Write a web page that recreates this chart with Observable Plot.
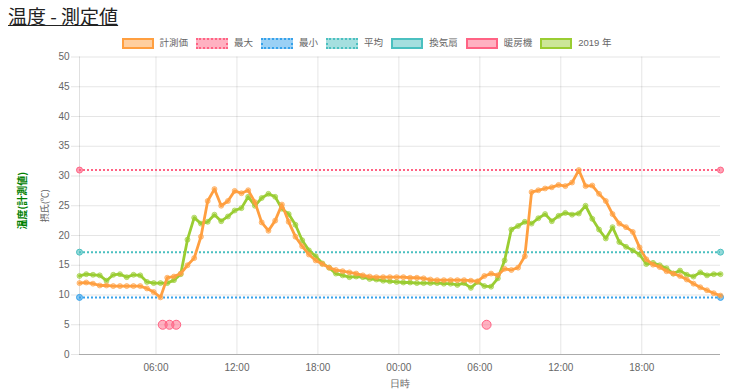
<!DOCTYPE html>
<html><head><meta charset="utf-8">
<script src="https://cdn.jsdelivr.net/npm/d3@7"></script>
<script src="https://cdn.jsdelivr.net/npm/@observablehq/plot@0.6"></script>
<style>
body{margin:0;background:#fff;font-family:"Liberation Sans",Arial,"Noto Sans CJK JP",sans-serif;width:733px;height:392px;overflow:hidden;position:relative;}
#title{position:absolute;left:8px;top:3px;font-size:19px;text-decoration:underline;color:#222;font-family:"Noto Sans CJK JP",sans-serif;line-height:26px;}
#legend{position:absolute;top:37px;left:0;width:733px;display:flex;justify-content:center;font-size:9.5px;color:#666;font-family:"Liberation Sans","Noto Sans CJK JP",sans-serif;}
.item{display:flex;align-items:center;margin:0 4px;line-height:12px;}
.box{width:28px;height:7px;margin-right:6px;border-width:2px;}
#chart{position:absolute;top:52px;left:0;}
</style></head>
<body>
<div id="title">温度 - 測定値</div>
<div id="legend"></div>
<div id="chart"></div>
<script>
// ---- data ----
const startTime = Date.UTC(2020, 0, 1, 0, 20);
const endTime = Date.UTC(2020, 0, 2, 23, 50);
const stepMinutes = 30;
const measured = [
  12.0, 12.1, 11.9, 11.6, 11.6, 11.5, 11.5, 11.5, 11.5, 11.5,
  11.1, 10.5, 9.6, 12.9, 13.1, 13.6, 15.0, 16.2, 19.8, 25.8,
  27.8, 25.0, 25.8, 27.5, 27.1, 27.6, 25.6, 22.2, 20.8, 22.5,
  25.2, 22.3, 19.8, 18.2, 16.8, 15.8, 15.2, 14.6, 14.2, 14.0,
  13.8, 13.6, 13.3, 13.1, 13.0, 13.0, 13.0, 13.0, 13.0, 12.9,
  12.9, 12.8, 12.6, 12.5, 12.5, 12.5, 12.5, 12.5, 12.4, 12.3,
  13.2, 13.6, 13.3, 14.4, 14.2, 14.6, 16.5, 27.3, 27.6, 27.9,
  28.1, 28.5, 28.3, 28.9, 31.0, 28.3, 28.4, 27.0, 25.8, 23.6,
  22.0, 21.4, 20.6, 18.0, 16.0, 15.1, 14.7, 14.0, 13.6, 13.2,
  12.6, 11.9, 11.3, 10.8, 10.3, 9.9
];
const y2019 = [
  13.2, 13.5, 13.4, 13.3, 12.4, 13.4, 13.5, 13.0, 13.4, 13.3,
  12.2, 12.0, 12.0, 12.0, 12.5, 13.5, 19.3, 23.0, 22.0, 22.3,
  23.5, 22.4, 23.2, 24.2, 24.6, 26.5, 25.0, 26.3, 27.0, 26.5,
  24.5, 23.6, 21.8, 19.2, 17.5, 16.5, 15.3, 14.6, 13.6, 13.3,
  13.0, 13.1, 13.0, 12.7, 12.6, 12.4, 12.3, 12.2, 12.1, 12.1,
  12.0, 12.0, 12.0, 12.0, 11.9, 11.9, 11.7, 12.0, 11.2, 12.2,
  11.5, 11.4, 12.8, 15.8, 21.0, 21.6, 22.3, 22.0, 22.9, 23.6,
  22.4, 23.3, 23.8, 23.5, 23.7, 25.0, 22.8, 21.0, 19.5, 21.4,
  18.9, 18.1, 17.5, 16.8, 15.2, 15.4, 15.0, 14.5, 13.6, 14.1,
  13.4, 13.1, 13.8, 13.3, 13.5, 13.5
];
const heaterTimes = ["2020-01-01T06:30Z", "2020-01-01T07:00Z", "2020-01-01T07:30Z", "2020-01-02T06:30Z"];
const heaterValues = [5, 5, 5, 5];
const refMax = 31.0, refMin = 9.6, refAvg = 17.2;
const yTicks = [0, 5, 10, 15, 20, 25, 30, 35, 40, 45, 50];
const xTickTimes = ["2020-01-01T06:00Z", "2020-01-01T12:00Z", "2020-01-01T18:00Z", "2020-01-02T00:00Z", "2020-01-02T06:00Z", "2020-01-02T12:00Z", "2020-01-02T18:00Z"];
const xTickLabels = ["06:00", "12:00", "18:00", "00:00", "06:00", "12:00", "18:00"];
const legendItems = [
  {label: "計測価", color: "rgb(255,159,64)", fill: "rgba(255,159,64,0.5)", style: "solid"},
  {label: "最大", color: "rgb(255,99,132)", fill: "rgba(255,99,132,0.5)", style: "dotted"},
  {label: "最小", color: "rgb(54,162,235)", fill: "rgba(54,162,235,0.5)", style: "dotted"},
  {label: "平均", color: "rgb(75,192,192)", fill: "rgba(75,192,192,0.5)", style: "dotted"},
  {label: "換気扇", color: "rgb(75,192,192)", fill: "rgba(75,192,192,0.5)", style: "solid"},
  {label: "暖房機", color: "rgb(255,99,132)", fill: "rgba(255,99,132,0.5)", style: "solid"},
  {label: "2019 年", color: "rgb(154,205,50)", fill: "rgba(154,205,50,0.5)", style: "solid"}
];

// ---- build ----
const t0 = new Date(startTime), t1 = new Date(endTime);
const series = measured.map((v, i) => ({t: new Date(startTime + i * stepMinutes * 60000), m: v, g: y2019[i]}));
const heater = heaterTimes.map((t, i) => ({t: new Date(t), v: heaterValues[i]}));
const xTicks = xTickTimes.map(d => new Date(d));
const labelMap = new Map(xTicks.map((d, i) => [+d, xTickLabels[i]]));

const leg = document.getElementById("legend");
for (const it of legendItems) {
  const el = document.createElement("div"); el.className = "item";
  const b = document.createElement("div"); b.className = "box";
  b.style.borderStyle = it.style; b.style.borderColor = it.color; b.style.background = it.fill;
  const s = document.createElement("span"); s.textContent = it.label;
  el.append(b, s); leg.append(el);
}

const orange = "rgb(255,159,64)", green = "rgb(154,205,50)";
const refLine = (v, c, f) => [
  Plot.ruleY([v], {stroke: c, strokeWidth: 2, strokeDasharray: "2,2"}),
  Plot.dot([t0, t1], {x: d => d, y: () => v, r: 3, fill: f, stroke: c, strokeWidth: 1})
];

const chart = Plot.plot({
  width: 733, height: 340,
  marginLeft: 79, marginRight: 13, marginTop: 4.5, marginBottom: 38,
  style: {fontFamily: "Liberation Sans, Arial, sans-serif", fontSize: "10px", color: "#666", background: "white", overflow: "visible"},
  x: {type: "utc", domain: [t0, t1]},
  y: {domain: [0, 50]},
  marks: [
    Plot.gridY(yTicks, {stroke: "#000", strokeOpacity: 0.1}),
    Plot.gridX(xTicks, {stroke: "#000", strokeOpacity: 0.1}),
    Plot.ruleX([t0], {stroke: "#000", strokeOpacity: 0.12}),
    Plot.ruleY([0], {stroke: "#000", strokeOpacity: 0.25}),
    Plot.axisY(yTicks, {tickSize: 8, tickPadding: 2, stroke: "#e5e5e5", fill: "#666", label: null}),
    Plot.axisX(xTicks, {tickSize: 0, tickPadding: 9, fill: "#666", tickFormat: d => labelMap.get(+d), label: null}),
    Plot.text(["日時"], {frameAnchor: "bottom", lineAnchor: "middle", dy: 29, fill: "#666", fontSize: 10}),
    Plot.text(["温度(計測値)"], {frameAnchor: "left", textAnchor: "middle", rotate: -90, dx: -57, dy: -5, fill: "green", fontWeight: "bold", fontSize: 10, fontFamily: "Noto Sans CJK JP"}),
    Plot.text(["摂氏(℃)"], {frameAnchor: "left", textAnchor: "middle", rotate: -90, dx: -34, dy: 0, fill: "#666", fontSize: 9, fontFamily: "Noto Sans CJK JP"}),
    ...refLine(refMax, "rgb(255,99,132)", "rgba(255,99,132,0.6)"),
    ...refLine(refAvg, "rgb(75,192,192)", "rgba(75,192,192,0.6)"),
    ...refLine(refMin, "rgb(54,162,235)", "rgba(54,162,235,0.6)"),
    Plot.line(series, {x: "t", y: "g", stroke: green, strokeWidth: 2.8}),
    Plot.dot(series, {x: "t", y: "g", r: 2.5, fill: "rgba(154,205,50,0.45)", stroke: "rgba(154,205,50,0.8)", strokeWidth: 0.8}),
    Plot.line(series, {x: "t", y: "m", stroke: orange, strokeWidth: 2.8}),
    Plot.dot(series, {x: "t", y: "m", r: 2.5, fill: "rgba(255,159,64,0.45)", stroke: "rgba(255,159,64,0.8)", strokeWidth: 0.8}),
    Plot.dot(heater, {x: "t", y: "v", r: 4.5, fill: "rgba(255,99,132,0.5)", stroke: "rgb(255,99,132)", strokeWidth: 1})
  ]
});
document.getElementById("chart").append(chart);
</script>
</body></html>
